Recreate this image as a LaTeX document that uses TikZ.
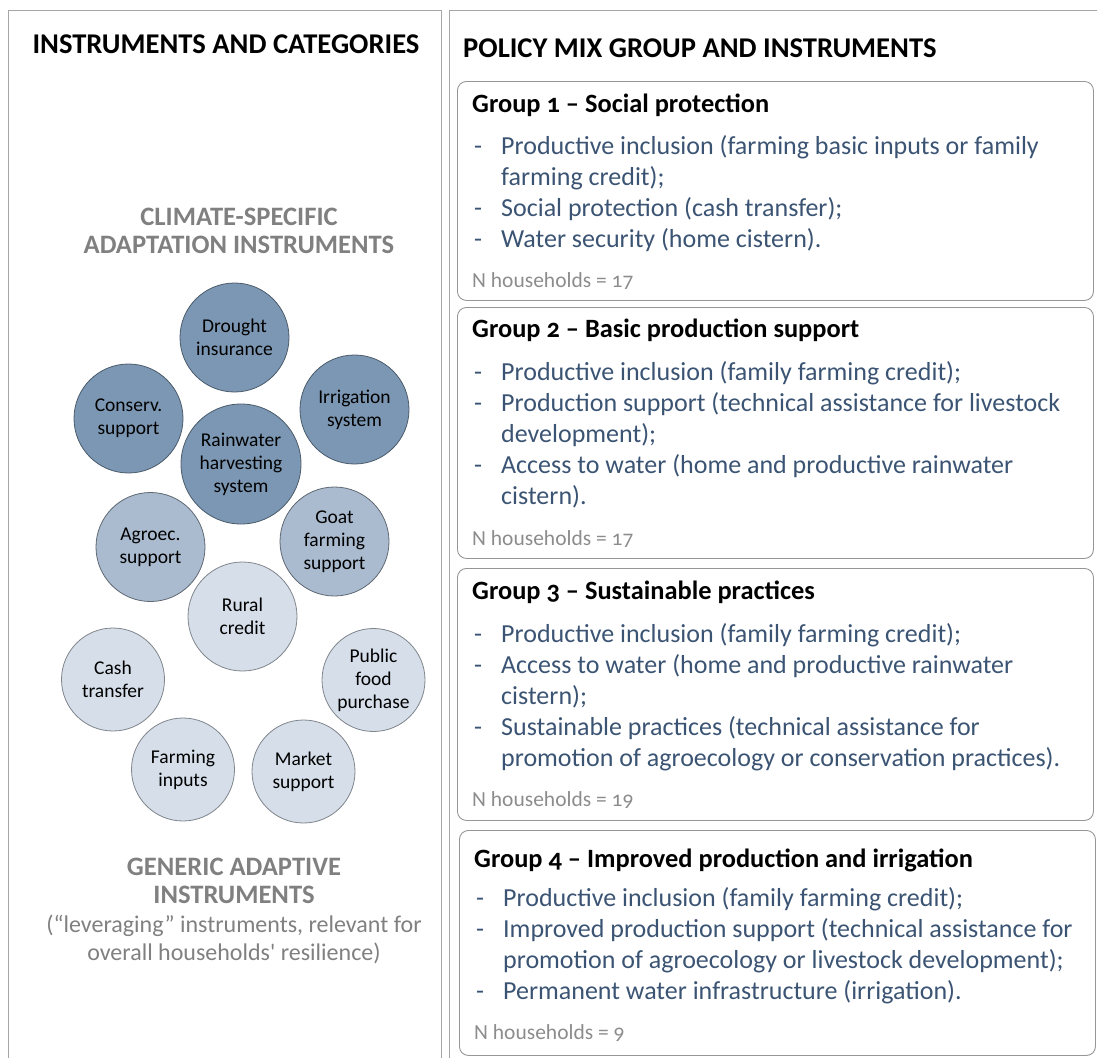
\documentclass[tikz,border=0pt]{standalone}
\usepackage{fontspec}
\setmainfont{Carlito}[Numbers=OldStyle]
\usetikzlibrary{positioning}
\definecolor{framegray}{RGB}{166,166,166}
\definecolor{boxgray}{RGB}{150,150,150}
\definecolor{headgray}{RGB}{128,128,128}
\definecolor{countgray}{RGB}{140,140,140}
\definecolor{listblue}{RGB}{59,84,115}
\definecolor{circdark}{RGB}{124,151,179}
\definecolor{circmid}{RGB}{170,187,207}
\definecolor{circlight}{RGB}{213,222,233}
\newcommand{\dashitem}[1]{\hangindent=27pt\hangafter=1\noindent\makebox[27pt][l]{-}#1\par}
\newcommand{\itemblock}[1]{\begin{minipage}[t]{640pt}#1\end{minipage}}
\newcommand{\catbold}{\bfseries\fontsize{26.6}{28.5}\selectfont}
\tikzset{
    panel/.style={draw=framegray, line width=1pt},
    groupbox/.style={draw=boxgray, line width=0.9pt, rounded corners=9pt, anchor=north west, inner sep=0},
    heading/.style={font=\bfseries\fontsize{28.6}{34}\selectfont, inner sep=0},
    category/.style={text=headgray, font=\fontsize{24}{28.5}\selectfont, align=center, inner sep=0},
    grptitle/.style={font=\bfseries\fontsize{26.4}{30}\selectfont, anchor=base west, inner sep=0},
    grplist/.style={text=listblue, font=\fontsize{26}{31}\selectfont, anchor=base west, inner sep=0},
    hhcount/.style={text=countgray, font=\fontsize{21.5}{24}\selectfont, anchor=base west, inner sep=0},
    instr/.style={circle, inner sep=0, align=center, line width=0.8pt, font=\fontsize{19.5}{23}\selectfont},
    climdark/.style={instr, fill=circdark, draw=circdark!60!black},
    climmid/.style={instr, fill=circmid, draw=circmid!55!black},
    generic/.style={instr, fill=circlight, draw=circlight!60!black},
}
\begin{document}
\begin{tikzpicture}[x=1pt, y=-1pt]
    \useasboundingbox (0,0) rectangle (1097,1057);
    \clip (0,0) rectangle (1097,1057);
    % two panels, both run off the page
    \draw[panel] (8,1070) -- (8,11) -- (441,11) -- (441,1070);
    \draw[panel] (449,1070) -- (449,11) -- (1110,11);
    \node[heading, anchor=base] (lefthead) at (226,53) {INSTRUMENTS AND CATEGORIES};
    \node[heading, anchor=base west] (righthead) at (463,58) {POLICY MIX GROUP AND INSTRUMENTS};
    % instrument circles
    \foreach \name/\x/\y/\r/\sty/\txt in {
        drought/234.5/337.5/54.5/climdark/{Drought\\insurance},
        conserv/128.5/418.5/54.5/climdark/{Conserv.\\support},
        irrig/354.5/409.5/54.5/climdark/{Irrigation\\system},
        rain/241/464/60/climdark/{Rainwater\\harvesting\\system},
        agroec/150.5/547/54.5/climmid/{Agroec.\\support},
        goat/334.5/541.5/54.5/climmid/{Goat\\farming\\support},
        rural/242.5/616.5/54.5/generic/{Rural\\credit},
        cash/113/679.5/51.5/generic/{Cash\\transfer},
        food/373.5/680/51.5/generic/{Public\\food\\purchase},
        inputs/183/769.5/51.5/generic/{Farming\\inputs},
        market/303.5/771.5/51.5/generic/{Market\\support}}
        \node[\sty, minimum size=2*\r] (\name) at (\x,\y) {\txt};
    \node[category] (climhead) at (239,231) {{\catbold CLIMATE-SPECIFIC}\\{\catbold ADAPTATION INSTRUMENTS}};
    \node[category] (generichead) at (234,911) {{\catbold GENERIC ADAPTIVE}\\{\catbold INSTRUMENTS}\\(“leveraging” instruments, relevant for\\overall households\textquotesingle{} resilience)};
    % policy mix groups
    \foreach \i/\x/\top/\ht/\tb/\nb/\ttl/\n in {
        1/457/81/219/112/287/{Social protection}/17,
        2/457/307/251/337/545/{Basic production support}/17,
        3/457/568/252/599/806/{Sustainable practices}/19,
        4/459/830/225/867/1039/{Improved production and irrigation}/9} {
        \node[groupbox, minimum width=636, minimum height=\ht] (grp\i) at (\x,\top) {};
        \node[grptitle] (grp\i title) at (\x+15,\tb) {Group \i\ – \ttl};
        \node[hhcount] (grp\i count) at (\x+15,\nb) {N households = \n};
    }
    \node[grplist] (grp1list) at (474,154) {\itemblock{%
        \dashitem{Productive inclusion (farming basic inputs or family\\farming credit);}
        \dashitem{Social protection (cash transfer);}
        \dashitem{Water security (home cistern).}}};
    \node[grplist] (grp2list) at (474,380) {\itemblock{%
        \dashitem{Productive inclusion (family farming credit);}
        \dashitem{Production support (technical assistance for livestock\\development);}
        \dashitem{Access to water (home and productive rainwater\\cistern).}}};
    \node[grplist] (grp3list) at (474,642) {\itemblock{%
        \dashitem{Productive inclusion (family farming credit);}
        \dashitem{Access to water (home and productive rainwater\\cistern);}
        \dashitem{Sustainable practices (technical assistance for\\promotion of agroecology or conservation practices).}}};
    \node[grplist] (grp4list) at (476,906) {\itemblock{%
        \dashitem{Productive inclusion (family farming credit);}
        \dashitem{Improved production support (technical assistance for\\promotion of agroecology or livestock development);}
        \dashitem{Permanent water infrastructure (irrigation).}}};
\end{tikzpicture}
\end{document}
